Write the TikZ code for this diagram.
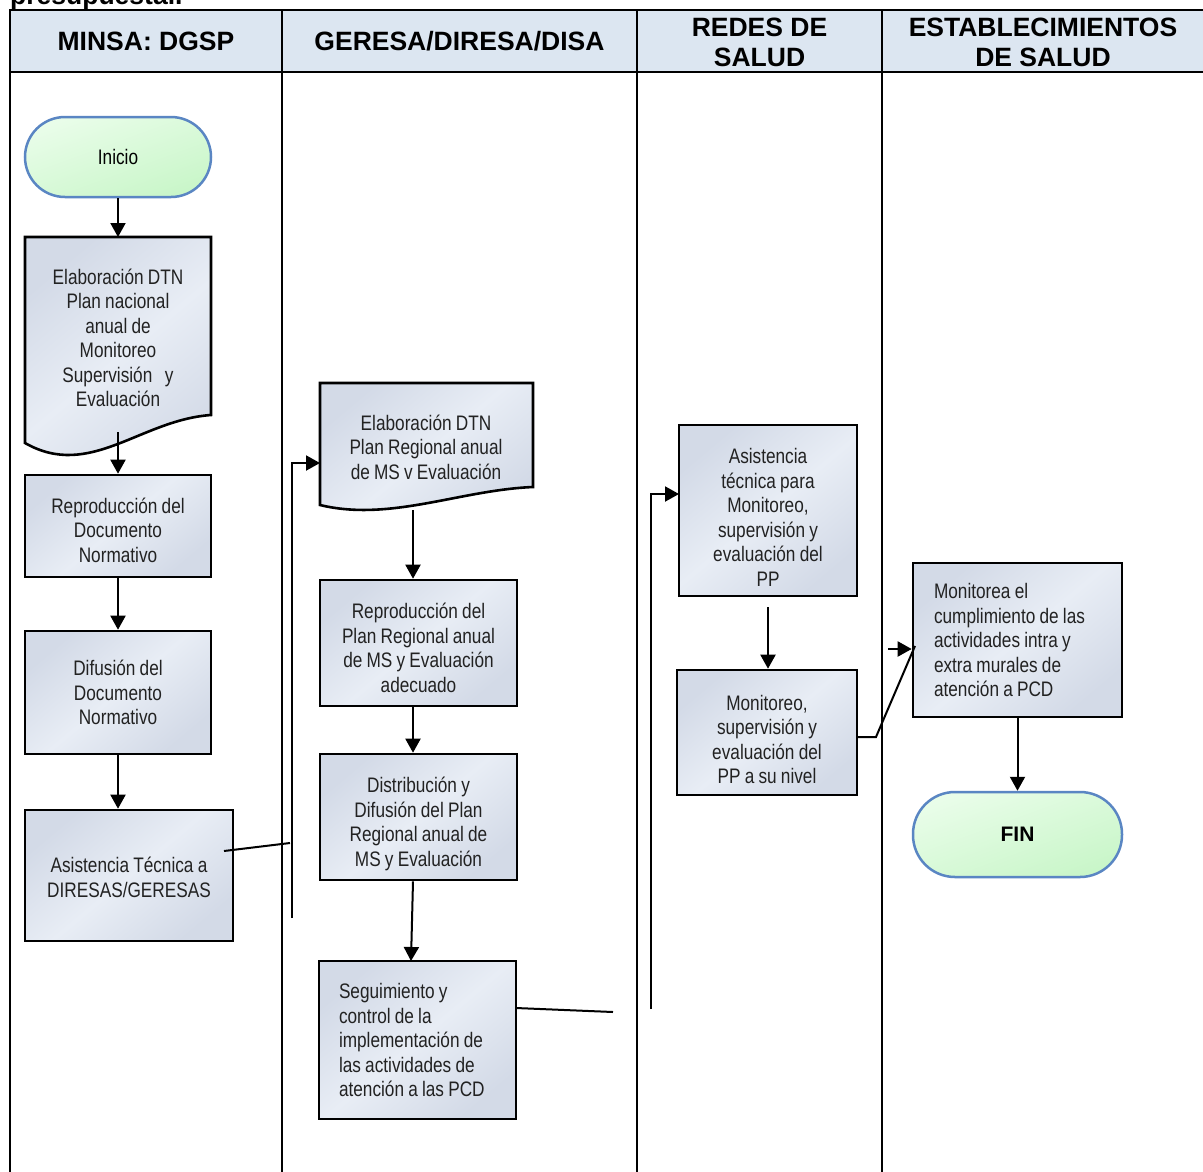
\documentclass[tikz,border=0pt]{standalone}
\usepackage{fontspec}
\setmainfont{Liberation Sans}
\newfontfamily\narrowfont[FakeStretch=0.82,WordSpace=0.88]{Liberation Sans}
\usetikzlibrary{arrows.meta}
\definecolor{hdr}{HTML}{DCE6F1}
\definecolor{boxA}{HTML}{D3DAE7}
\definecolor{boxB}{HTML}{E8EDF5}
\definecolor{termA}{HTML}{E9FDE9}
\definecolor{termB}{HTML}{C9F6C9}
\definecolor{termline}{HTML}{5A86C3}
\definecolor{txt}{HTML}{222222}
\begin{document}
\begin{tikzpicture}[x=1pt,y=-1pt,
  bodyfont/.style={font=\narrowfont\fontsize{21}{24.5}\selectfont},
  proc/.style={draw=black, line width=2.6pt, top color=boxA, bottom color=boxA, middle color=boxB, shading angle=40, text=txt, bodyfont, align=flush center, inner sep=0pt},
  docshape/.style={draw=black, line width=2.6pt, top color=boxA, bottom color=boxA, middle color=boxB, shading angle=40},
  doctext/.style={text=txt, bodyfont, align=flush center, inner sep=0pt},
  term/.style={draw=termline, line width=2.5pt, rounded corners=40pt, top color=termB, bottom color=termA, shading angle=200, text=black, bodyfont, align=flush center, inner sep=0pt},
  hdrtext/.style={font=\bfseries\fontsize{26.5}{30}\selectfont, align=flush center, inner sep=0pt},
  flow/.style={draw=black, line width=2pt},
  arr/.style={flow, -{Triangle[length=14pt,width=15pt]}},
  gridline/.style={draw=black, line width=2.6pt}
]
\useasboundingbox (0,0) rectangle (1203,1171);
\clip (0,0) rectangle (1203,1171);
\fill[white] (0,0) rectangle (1203,1171);

% caption cut off at top
\node[anchor=base west, font=\bfseries\fontsize{26.5}{30}\selectfont, inner sep=0pt] (pre) at (10,4) {presupuestal.};

% table
\fill[hdr] (10,10) rectangle (1210,72);
\draw[gridline] (10,1180) -- (10,10) -- (1210,10);
\draw[gridline] (10,72) -- (1210,72);
\draw[gridline] (282,10) -- (282,1180);
\draw[gridline] (637,10) -- (637,1180);
\draw[gridline] (882,10) -- (882,1180);

\node[hdrtext] (h1) at (146,41) {MINSA: DGSP};
\node[hdrtext] (h2) at (459.5,41) {GERESA/DIRESA/DISA};
\node[hdrtext] (h3) at (759.5,42) {REDES DE\\SALUD};
\node[hdrtext] (h4) at (1043,42) {ESTABLECIMIENTOS\\DE SALUD};

% lane 1
\node[term, minimum width=186pt, minimum height=80pt] (ini) at (118,157) {Inicio};
\path[docshape] (25,237) -- (211,237) -- (211,415) .. controls (140,420) and (90,480) .. (25,443) -- cycle;
\node[doctext] (d1) at (118,338) {Elaboración DTN\\Plan nacional\\anual de\\Monitoreo\\Supervisión\ \ \ y\\Evaluación};
\coordinate (d1top) at (118,237);
\coordinate (d1out) at (118,432);
\node[proc, minimum width=186pt, minimum height=102pt] (rep1) at (118,526) {};
\node[doctext] (rep1t) at (118,530) {Reproducción del\\Documento\\Normativo};
\node[proc, minimum width=186pt, minimum height=123pt] (dif) at (118,692.5) {};
\node[doctext] (dift) at (118,692.5) {Difusión del\\Documento\\Normativo};
\node[proc, minimum width=208pt, minimum height=131pt] (ast1) at (129,875.5) {};
\node[doctext] (ast1t) at (129,877.5) {Asistencia Técnica a\\DIRESAS/GERESAS};

% lane 2
\path[docshape] (320,383) -- (533,383) -- (533,487) .. controls (460,490) and (390,522) .. (320,505) -- cycle;
\node[doctext] (d2) at (426,447) {Elaboración DTN\\Plan Regional anual\\de MS v Evaluación};
\coordinate (d2in) at (320,463);
\coordinate (d2out) at (413,510);
\node[proc, minimum width=197pt, minimum height=126pt] (rep2) at (418.5,643) {};
\node[doctext] (rep2t) at (418.5,648) {Reproducción del\\Plan Regional anual\\de MS y Evaluación\\adecuado};
\node[proc, minimum width=197pt, minimum height=126pt] (dist) at (418.5,817) {};
\node[doctext] (distt) at (418.5,824) {Distribución y\\Difusión del Plan\\Regional anual de\\MS y Evaluación};
\node[proc, align=flush left, text width=157pt, inner xsep=20pt, minimum height=158pt] (seg) at (417.5,1040) {Seguimiento y\\control de la\\implementación de\\las actividades de\\atención a las PCD};

% lane 3
\node[proc, minimum width=178pt, minimum height=171pt] (ast2) at (768,510.5) {};
\node[doctext] (ast2t) at (768,517.5) {Asistencia\\técnica para\\Monitoreo,\\supervisión y\\evaluación del\\PP};
\node[proc, minimum width=180pt, minimum height=125pt] (mon) at (767,732.5) {};
\node[doctext] (mont) at (767,739.5) {Monitoreo,\\supervisión y\\evaluación del\\PP a su nivel};

% lane 4
\node[proc, align=flush left, text width=167pt, inner xsep=21pt, minimum height=154pt] (mtr) at (1017.5,640) {Monitorea el\\cumplimiento de las\\actividades intra y\\extra murales de\\atención a PCD};
\node[term, minimum width=209pt, minimum height=85pt, rounded corners=42pt, font=\bfseries\fontsize{21}{24.5}\selectfont] (fin) at (1017.5,834.5) {FIN};

% connectors
\draw[arr] (ini.south) -- (d1top);
\draw[arr] (d1out) -- (d1out |- rep1.north);
\draw[arr] (rep1.south) -- (dif.north);
\draw[arr] (dif.south) -- (dif.south |- ast1.north);

\coordinate (a1o) at (224,851);
\coordinate (j1) at (290,843);
\draw[flow] (a1o) -- (j1);
\coordinate (v1) at (292,918);
\draw[arr] (v1) |- (d2in);

\draw[arr] (d2out) -- (d2out |- rep2.north);
\draw[arr] (d2out |- rep2.south) -- (d2out |- dist.north);
\coordinate (segin) at (411,961);
\draw[arr] (d2out |- dist.south) -- (segin);

\coordinate (s1) at (516,1008);
\coordinate (j2) at (613,1012);
\draw[flow] (s1) -- (j2);
\coordinate (v2) at (651,1009);
\coordinate (a2in) at (679,494);
\draw[arr] (v2) |- (a2in);

\coordinate (a2o) at (768,607);
\draw[arr] (a2o) -- (a2o |- mon.north);

\coordinate (m1) at (857,737);
\coordinate (m2) at (876,737);
\coordinate (m3) at (915,646);
\draw[flow] (m1) -- (m2) -- (m3);
\coordinate (m4) at (888,649);
\draw[arr] (m4) -- (m4 -| mtr.west);

\draw[arr] (mtr.south) -- (fin.north);
\end{tikzpicture}
\end{document}
